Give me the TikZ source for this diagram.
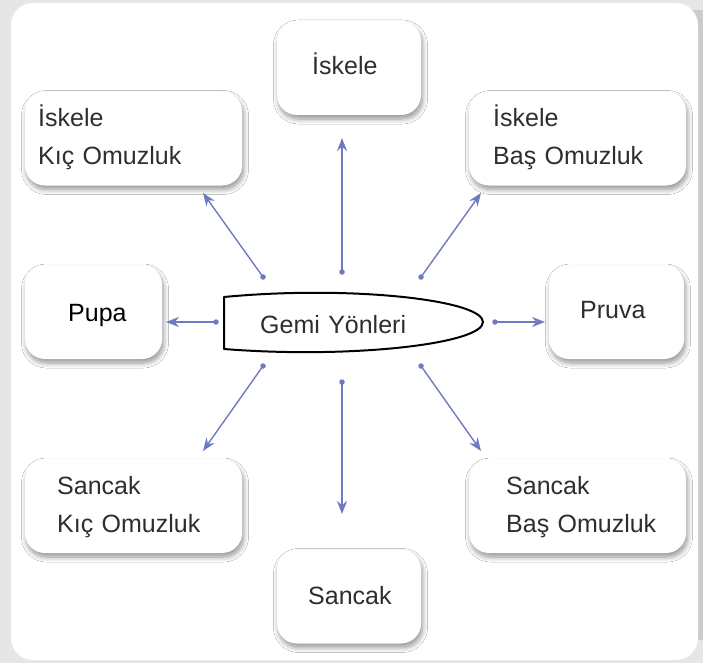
\documentclass[tikz,border=0pt]{standalone}
\usepackage{fontspec}
\setmainfont{Liberation Sans}
\usetikzlibrary{shadows.blur,arrows.meta}
\definecolor{bggray}{HTML}{E6E6E6}
\definecolor{arrowblue}{HTML}{6E7AC2}
\definecolor{txt}{HTML}{2E2E2E}
\begin{document}
\begin{tikzpicture}[x=1pt,y=-1pt,
  box/.style={fill=white, rounded corners=20pt, minimum width=#1, minimum height=94pt, inner sep=0pt,
    blur shadow={shadow xshift=1.5pt, shadow yshift=-4pt, shadow blur radius=5pt, shadow blur steps=8, shadow opacity=42}},
  lbl/.style={font=\fontsize{25}{38}\selectfont, text=txt, inner sep=0pt, anchor=base west, align=left, text width=210pt},
  conn/.style={draw=arrowblue, line width=1.4pt, -{Stealth[length=13pt,width=10pt]}},
  dotnode/.style={circle, fill=arrowblue, inner sep=0pt, minimum size=5.5pt}]
\useasboundingbox (0,0) rectangle (703,663);
\fill[bggray] (0,0) rectangle (703,663);
\fill[gray!40] (690,10) rectangle (703,640);
\node[fill=white, rounded corners=22pt, minimum width=687pt, minimum height=657pt, inner sep=0pt] (panel) at (354.5,331.5) {};

% boxes
\node[box=144pt] (iskele) at (349,68) {};
\node[box=217pt] (iskelekic) at (133.5,138.5) {};
\node[box=217pt] (iskelebas) at (577.5,138.5) {};
\node[box=137pt] (pupa) at (93.5,312) {};
\node[box=135pt] (pruva) at (616.5,312) {};
\node[box=217pt] (sancakkic) at (133.5,506) {};
\node[box=217pt] (sancakbas) at (577.5,506) {};
\node[box=144pt] (sancak) at (349,596.5) {};

% labels
\node[lbl] (tiskele) at (312,75) {İskele};
\node[lbl] (tiskelekic) at (38,127) {İskele\\Kıç Omuzluk};
\node[lbl] (tiskelebas) at (493,127) {İskele\\Baş Omuzluk};
\node[lbl, text=black] (tpupa) at (68,321) {Pupa};
\node[lbl] (tpruva) at (580,318) {Pruva};
\node[lbl] (tsancakkic) at (57,494) {Sancak\\Kıç Omuzluk};
\node[lbl] (tsancakbas) at (506,494) {Sancak\\Baş Omuzluk};
\node[lbl] (tsancak) at (308,604) {Sancak};

% ship
\draw[line width=2pt, line join=round] (224,297) .. controls (350,285) and (483,300) .. (483,322)
  .. controls (483,344) and (350,359) .. (224,349) -- cycle;
\node[lbl] (gemi) at (260,333) {Gemi Yönleri};

% connectors
\node[dotnode] (d1) at (342,272) {};
\node[dotnode] (d2) at (263,277) {};
\node[dotnode] (d3) at (421,277) {};
\node[dotnode] (d4) at (216,322) {};
\node[dotnode] (d5) at (495,322) {};
\node[dotnode] (d6) at (263,366) {};
\node[dotnode] (d7) at (342,382) {};
\node[dotnode] (d8) at (421,366) {};
\coordinate (t1) at (342,138);
\coordinate (t2) at (203,193);
\coordinate (t3) at (481,193);
\coordinate (t4) at (166,322);
\coordinate (t5) at (545,322);
\coordinate (t6) at (203,451);
\coordinate (t7) at (342,514);
\coordinate (t8) at (481,451);
\foreach \i in {1,...,8} {\draw[conn] (d\i.center) -- (t\i);}
\end{tikzpicture}
\end{document}
